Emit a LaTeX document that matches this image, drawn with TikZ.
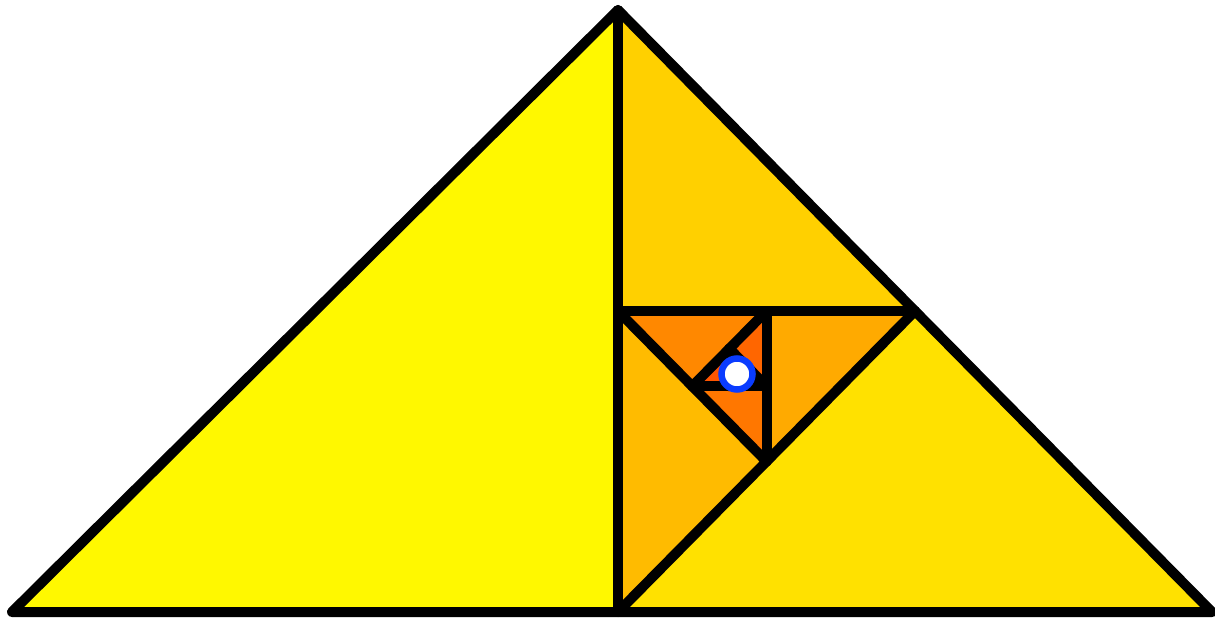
\documentclass[tikz,border=0pt]{standalone}
\usetikzlibrary{calc}
\definecolor{c0}{HTML}{FFF800}
\definecolor{c1}{HTML}{FFE100}
\definecolor{c2}{HTML}{FFD000}
\definecolor{c3}{HTML}{FFBB00}
\definecolor{c4}{HTML}{FFAA00}
\definecolor{c5}{HTML}{FF8800}
\definecolor{c6}{HTML}{FF7700}
\definecolor{c7}{HTML}{FF6600}
\definecolor{c8}{HTML}{FF5500}
\definecolor{ptblue}{HTML}{0A3CFF}
\tikzset{edge/.style={draw=black, line width=10pt, line join=round, line cap=round}}
\begin{document}
\begin{tikzpicture}[x=1pt,y=-1pt]
\useasboundingbox (0,0) rectangle (1215,620);
\coordinate (C) at (1212,612);
\coordinate (A) at (618,10);
\coordinate (D) at (618,612);
\coordinate (B) at (12,612);
\coordinate (P1) at ($(C)!0.5!(A)$);
\coordinate (P2) at ($(A)!0.5!(D)$);
\coordinate (P3) at ($(D)!0.5!(P1)$);
\coordinate (P4) at ($(P1)!0.5!(P2)$);
\coordinate (P5) at ($(P2)!0.5!(P3)$);
\coordinate (P6) at ($(P3)!0.5!(P4)$);
\coordinate (P7) at ($(P4)!0.5!(P5)$);
\coordinate (P8) at ($(P5)!0.5!(P6)$);
% fills
\fill[c0] (B) -- (A) -- (D) -- cycle;
\fill[c1] (C) -- (D) -- (P1) -- cycle;
\fill[c2] (A) -- (P1) -- (P2) -- cycle;
\fill[c3] (D) -- (P2) -- (P3) -- cycle;
\fill[c4] (P1) -- (P3) -- (P4) -- cycle;
\fill[c5] (P2) -- (P4) -- (P5) -- cycle;
\fill[c6] (P3) -- (P5) -- (P6) -- cycle;
\fill[c7] (P4) -- (P6) -- (P7) -- cycle;
\fill[c8] (P5) -- (P7) -- (P8) -- cycle;
% outlines
\path[edge] (B) -- (A) -- (C) -- cycle;
\path[edge] (A) -- (D);
\path[edge] (D) -- (P1);
\path[edge] (P1) -- (P2);
\path[edge] (P2) -- (P3);
\path[edge] (P3) -- (P4);
\path[edge] (P4) -- (P5);
\path[edge] (P5) -- (P6);
\path[edge] (P6) -- (P7);
\path[edge] (P7) -- (P8);
% limit point
\draw[ptblue, fill=white, line width=6.5pt] (737,374) circle (15.5pt);
\end{tikzpicture}
\end{document}
